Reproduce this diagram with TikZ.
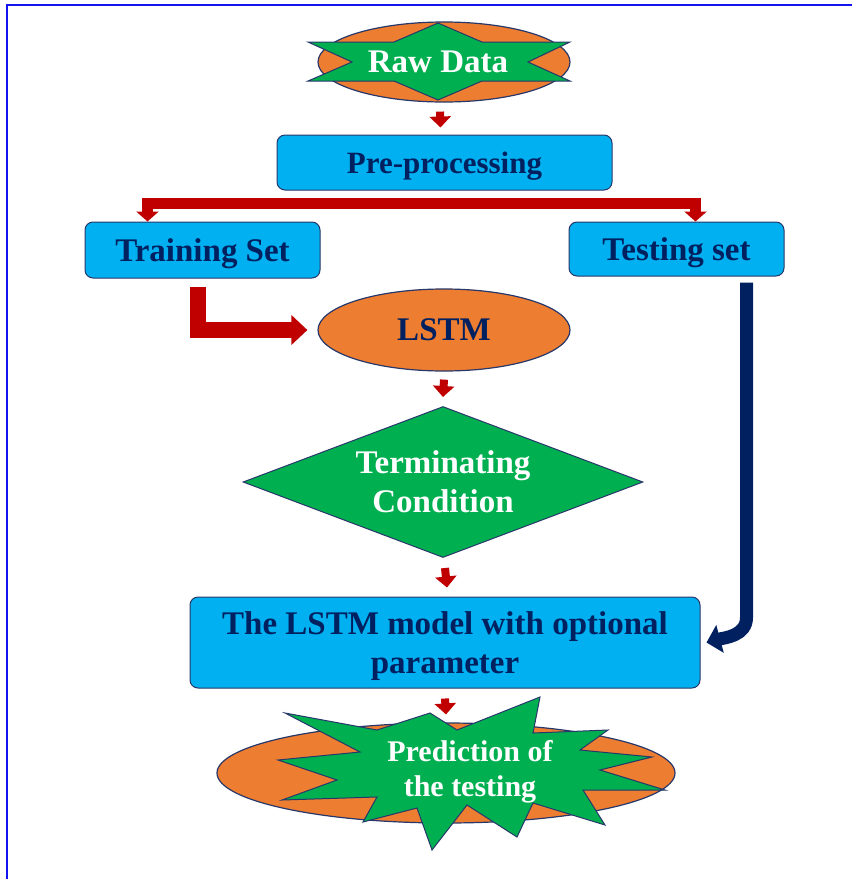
\documentclass[tikz,border=0pt]{standalone}
\usepackage{fontspec}
\setmainfont{Liberation Serif}
\usetikzlibrary{shapes.geometric,arrows.meta,calc}
\definecolor{boxcyan}{RGB}{0,176,240}
\definecolor{shapeorange}{RGB}{237,125,49}
\definecolor{shapegreen}{RGB}{0,176,80}
\definecolor{navytext}{RGB}{0,32,96}
\definecolor{flowred}{RGB}{192,0,0}
\definecolor{edgeblue}{RGB}{40,55,105}
\definecolor{frameblue}{RGB}{20,20,240}
\begin{document}
\begin{tikzpicture}[x=1pt,y=-1pt,
  every node/.style={inner sep=0pt},
  bigfont/.style={font=\bfseries\fontsize{33}{39}\selectfont},
  procbox/.style={draw=edgeblue, line width=1pt, fill=boxcyan, rounded corners=8pt,
    bigfont, text=navytext, align=center, text depth=0pt},
  oval/.style={ellipse, draw=edgeblue, line width=1.2pt, fill=shapeorange},
  greenshape/.style={draw=edgeblue, line width=1pt, fill=shapegreen, line join=miter},
  whitetext/.style={text=white, bigfont, align=center, text depth=0pt},
  smallarrow/.style={draw=flowred, line width=8pt, -{Triangle[width=21pt,length=11pt]}},
  splitarrow/.style={draw=flowred, line width=11pt, line join=miter, -{Triangle[width=22pt,length=10pt]}},
  bentarrow/.style={draw=flowred, line width=16pt, line join=miter, -{Triangle[width=29pt,length=16pt]}},
  bluearrow/.style={draw=navytext, line width=13pt, -{Triangle[width=28pt,length=14pt]}}
]
\useasboundingbox (0,0) rectangle (852,879);
% page frame
\draw[frameblue, line width=2pt] (7,879) -- (7,5) -- (852,5);

% raw data: ellipse with a six-point star
\node[oval, minimum width=252pt, minimum height=80pt] (raw) at (444,62) {};
\draw[greenshape] (438,23) -- (482,42) -- (570,42) -- (528,62) -- (570,81) -- (482,81)
  -- (438,100) -- (394,81) -- (308,81) -- (352,62) -- (308,42) -- (394,42) -- cycle;
\node[whitetext] (rawtxt) at (438,62) {Raw Data};

% processing boxes
\node[procbox, minimum width=335pt, minimum height=55pt,
  font=\bfseries\fontsize{31}{37}\selectfont] (pre) at (444.5,162.5) {Pre-processing};
\node[procbox, minimum width=235pt, minimum height=56pt] (train) at (202.5,250) {Training Set};
\node[procbox, minimum width=215pt, minimum height=54pt] (test) at (676.5,249) {Testing set};
\node[oval, minimum width=252pt, minimum height=82pt, bigfont, text=navytext] (lstm) at (444,330) {LSTM};
\node[diamond, greenshape, minimum width=400pt, minimum height=151pt, shape aspect=2.65] (cond) at (443,482) {};
\node[whitetext] (condtxt) at (cond) {Terminating\\Condition};
\node[procbox, minimum width=510pt, minimum height=91pt] (model) at (445,642.5)
  {The LSTM model with optional\\parameter};

% prediction: ellipse with an explosion star
\node[oval, minimum width=458pt, minimum height=100pt] (pred) at (446,773) {};
\draw[greenshape] (285,713) -- (377,730) -- (430,713) -- (457,730) -- (540,697) -- (533,733)
  -- (608,730) -- (580,750) -- (652,757) -- (600,770) -- (665,790) -- (583,790)
  -- (605,825) -- (533,803) -- (517,837) -- (467,805) -- (432,850) -- (417,808)
  -- (363,822) -- (377,797) -- (282,800) -- (337,780) -- (278,760) -- (360,752) -- cycle;
\node[whitetext, font=\bfseries\fontsize{30}{35}\selectfont] (predtxt) at (470,768)
  {Prediction of\\the testing};

% connectors
\draw[smallarrow] ([xshift=-4pt,yshift=-9pt]raw.south) -- ([xshift=-4pt,yshift=7pt]pre.north);
\coordinate (fork) at ([yshift=-13pt]pre.south);
\draw[splitarrow] (fork) -| ([xshift=-55pt]train.north);
\draw[splitarrow] (fork) -| ([xshift=19pt]test.north);
\draw[bentarrow] ([xshift=-5pt,yshift=-8pt]train.south) |- ([xshift=-10pt]lstm.west);
\draw[smallarrow] ([yshift=-8pt]lstm.south) -- ([yshift=9pt]cond.north);
\draw[smallarrow] ([xshift=2pt,yshift=-10pt]cond.south) -- ([xshift=2pt,yshift=9pt]model.north);
\coordinate (bstart) at ([xshift=70pt,yshift=-6pt]test.south);
\coordinate (bturn) at ($(bstart |- model.east)+(0,-25)$);
\draw[bluearrow] (bstart) -- (bturn) to[out=-90,in=15] ([xshift=6pt]model.east);
\draw[smallarrow] ([yshift=-10pt]model.south) -- ([yshift=8pt]pred.north);
\end{tikzpicture}
\end{document}
